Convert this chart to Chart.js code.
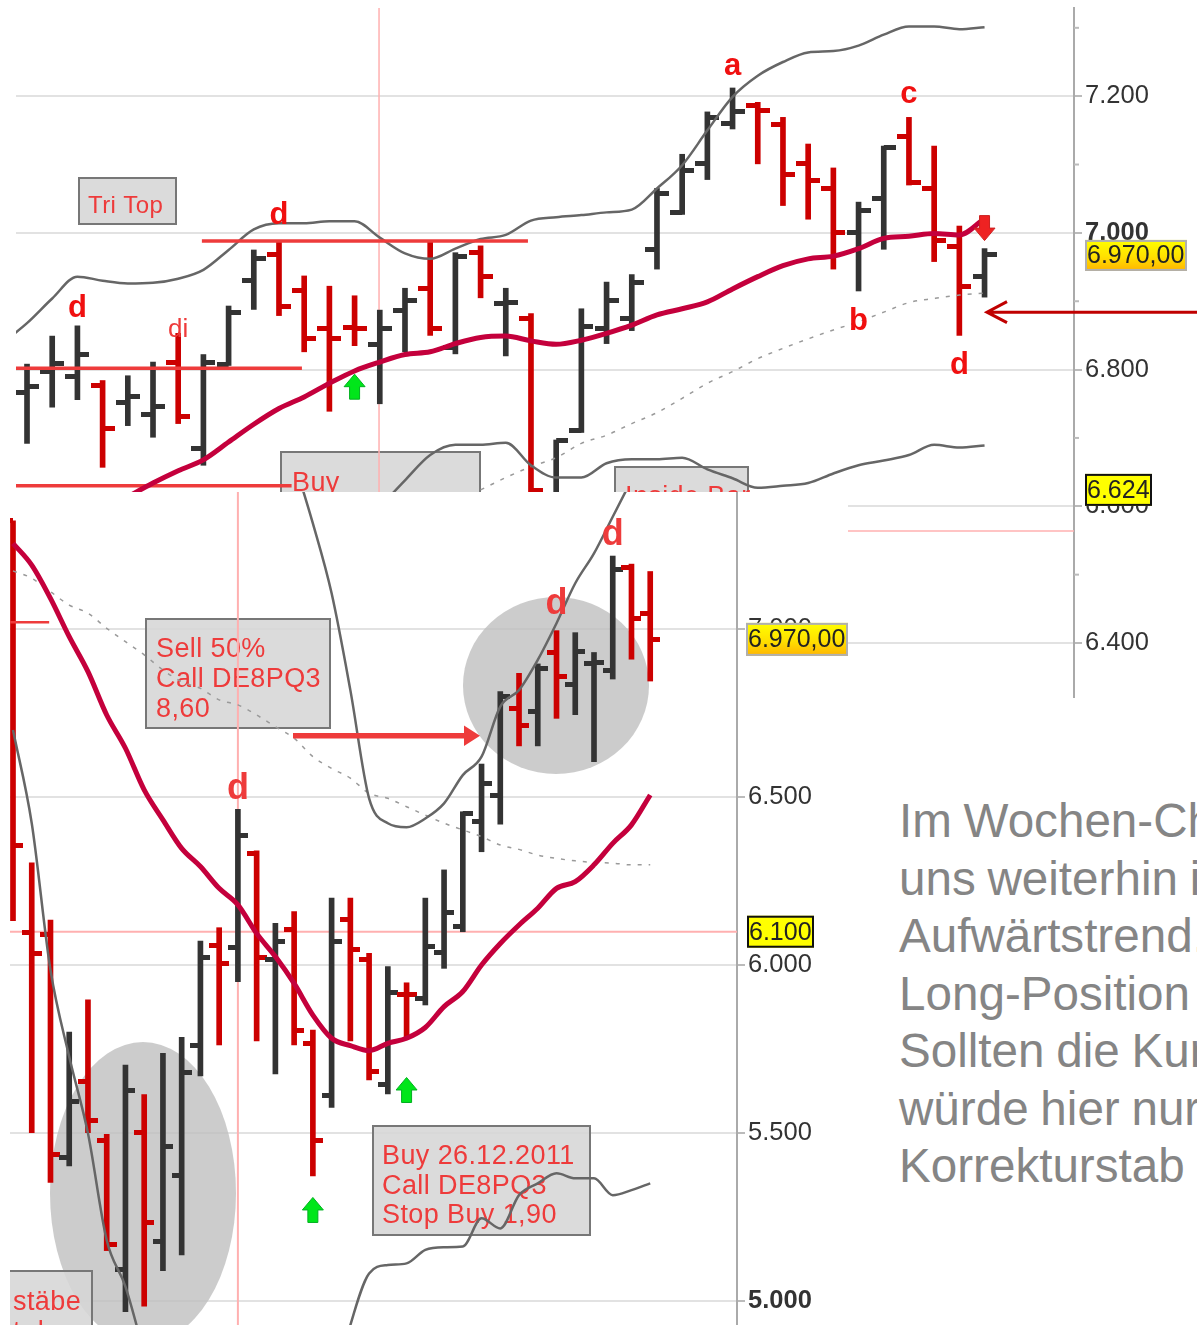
<!DOCTYPE html>
<html><head><meta charset="utf-8">
<script src="https://cdn.jsdelivr.net/npm/chart.js@4/dist/chart.umd.min.js"></script>
<style>
html,body{margin:0;padding:0;background:#fff;overflow:hidden;width:1197px;height:1325px}
#wrap{position:relative;width:1197px;height:1325px;overflow:hidden;font-family:"Liberation Sans",Arial,sans-serif}
#topBox{position:absolute;left:0;top:0;width:1197px;height:700px}
#botBox{position:absolute;left:10px;top:492px;width:838px;height:833px;background:#fff}
canvas{display:block}
#note{position:absolute;left:899px;top:792px;font-size:47.6px;line-height:57.5px;color:#858585;white-space:nowrap;word-spacing:-1.5px}
</style></head><body>
<div id="wrap">
<div id="topBox"><canvas id="top" width="1197" height="700"></canvas></div>
<div id="botBox"><canvas id="bot" width="838" height="833"></canvas></div>
<div id="note">Im Wochen-Chart<br>uns weiterhin im<br>Aufwärtstrend.<br>Long-Position<br>Sollten die Kurse<br>würde hier nur<br>Korrekturstab</div>
</div>
<script>
// ---------- weekly chart (top) ----------
const topHigh =[6808,6849,6864,6784,6791,6811,6853,6822,6893,6975,6987,6937,6922,6908,6887,6919,6987,6971,6981,6919,6882,6697,6889,6928,6939,7065,7115,7177,7212,7191,7169,7130,7095,7045,7127,7169,7127,7010,6977];
const topLow  =[6692,6745,6756,6657,6718,6701,6721,6660,6806,6888,6879,6826,6739,6835,6750,6826,6850,6823,6905,6820,6614,6599,6708,6838,6857,6947,7027,7078,7152,7101,7040,7020,6947,6915,6976,7070,6958,6850,6906];
const topOpen =[6766,6797,6790,6776,6752,6734,6810,6685,6807,6931,6969,6916,6860,6862,6837,6887,6918,6833,6972,6897,6875,6614,6711,6860,6875,6975,7030,7101,7160,7186,7159,7101,7065,7000,7050,7141,7065,6980,6936];
const topClose=[6775,6809,6822,6714,6761,6746,6731,6810,6884,6962,6893,6845,6845,6860,6860,6901,6860,6966,6936,6898,6623,6696,6863,6901,6927,7057,7091,7169,7177,7179,7086,7077,7000,7033,7125,7073,6989,6922,6969];
const topUpper=[6838,6868,6904,6936,6930,6926,6927,6933,6946,6975,7005,7014,7014,7017,7017,6993,6970,6962,6977,6991,6997,7018,7023,7026,7030,7034,7065,7099,7150,7199,7230,7250,7264,7266,7274,7290,7302,7302,7298,7301];
const topLower=[null,null,null,null,null,null,null,null,null,null,null,null,null,null,null,6599,6638,6675,6690,6690,6693,6660,6642,6642,6663,6669,6669,6671,6654,6641,6627,6630,6634,6648,6660,6667,6675,6690,6686,6689];
const topMA   =[null,null,null,null,6594,6614,6634,6652,6668,6694,6720,6743,6760,6780,6798,6811,6822,6826,6838,6847,6849,6842,6837,6843,6853,6865,6880,6889,6899,6918,6936,6952,6962,6966,6977,6992,6995,6999,6997,7021];
const topDots =[null,null,null,null,null,null,null,null,null,null,null,null,null,null,null,null,null,null,null,6624,6642,6658,6671,6692,6704,6721,6737,6758,6780,6797,6816,6831,6845,6858,6870,6884,6898,6904,6909,6912];
const topTicks=[6400,6500,6600,6700,6800,6900,7000,7100,7200,7300];
const topMajor=[6400,6600,6800,7000,7200];
const topLevels=[[7.94,20.88,6988],[0.56,11.91,6802],[0.56,11.5,6630]];
const topPink=6564, topCross=14.97;
const topLetters=[['d',3,6890],['d',11,7026],['di',7,6858],['a',29,7244],['c',36,7203],['b',34,6871],['d',38,6806]];
const topUpArrows=[[14,6775]], topDownArrows=[[39,7007]];
const topFlags=[['6.970,00',6967],['6.624',6624]];

// ---------- daily chart (bottom) ----------
const botHigh =[7323,6305,6135,5801,5897,5497,5703,5615,5738,5786,6072,6112,6464,6341,6125,6160,5807,6200,6200,6036,5996,5948,6200,6284,6457,6599,6815,6869,6897,6996,6990,6931,7218,7194,7172];
const botLow  =[6133,5502,5354,5403,5502,5151,4969,4986,5091,5138,5671,5763,5951,5775,5677,5763,5373,5577,5775,5659,5617,5783,5882,5991,6100,6338,6420,6653,6653,6735,6746,6606,6852,6911,6846];
const botOpen =[7323,6099,6092,5429,5655,5480,5095,5503,5177,5375,5762,6058,6053,6333,6018,6107,5766,5614,6135,6018,5644,5912,5900,6038,6117,6428,6504,6765,6755,6931,6836,6897,6876,7183,7048];
const botClose=[6358,6036,5438,5594,5539,5170,5626,5235,5462,5680,6024,6006,6386,6024,6070,5807,5480,6070,6046,5683,5919,5912,6055,6158,6452,6540,6800,6713,6884,6861,6935,6902,7178,7033,6971];
const botMA   =[7256,7191,7092,6978,6874,6745,6646,6522,6433,6348,6294,6229,6180,6095,6026,5946,5852,5783,5761,5746,5768,5783,5815,5877,5922,6001,6065,6120,6170,6229,6249,6299,6363,6418,6507];
const botUpper=[null,null,null,null,null,null,null,null,null,null,null,null,null,null,null,7500,7315,7107,6819,6497,6423,6411,6437,6482,6566,6621,6770,6819,6909,7018,7137,7226,7335,7444,null];
const botLower=[6700,6423,5986,5728,5500,5182,5044,4845,null,null,null,null,null,null,null,null,null,4700,4929,5083,5108,5113,5153,5161,5163,5247,5217,5316,5351,5381,5366,5366,5316,5331,5351];
const botDots =[7174,7152,7112,7072,7048,7003,6963,6924,6879,6844,6824,6790,6775,6745,6710,6676,6621,6586,6557,6512,6497,6472,6447,6423,6403,6383,6358,6345,6328,6318,6311,6306,6304,6299,6299];
const botTicks=[5000,5500,6000,6500,7000];
const botLevels=[[-0.16,1.93,7021]];
const botPink=6100, botCross=12;
const botLetters=[['d',12,6525],['d',29,7075],['d',32,7279]];
const botUpArrows=[[16,5272],[21,5629]];
const botFlags=[['6.970,00',6970],['6.100',6100]];

// ---------- helpers ----------
const FONT='"Liberation Sans", Arial, sans-serif';
const RED='#cc0000', DARK='#333333', ANN='#ee3b3b';
function tickImage(color,side,w){
  const c=document.createElement('canvas');c.width=w;c.height=5;
  const g=c.getContext('2d');g.fillStyle=color;
  if(side==='L')g.fillRect(0,0,w/2,5);else g.fillRect(w/2,0,w/2,5);
  return c;
}
function toXY(arr,off){return arr.map((v,i)=>({x:i+off,y:v}));}
function ohlcDatasets(hi,lo,op,cl,off,w,th){
  const col=i=>cl[i]>op[i]?DARK:RED;
  const imgs={L:{[DARK]:tickImage(DARK,'L',w),[RED]:tickImage(RED,'L',w)},R:{[DARK]:tickImage(DARK,'R',w),[RED]:tickImage(RED,'R',w)}};
  return [
    {type:'line',data:toXY(op,off),showLine:false,pointRadius:3,pointStyle:c=>imgs.L[col(c.dataIndex)]},
    {type:'line',data:toXY(cl,off),showLine:false,pointRadius:3,pointStyle:c=>imgs.R[col(c.dataIndex)]},
    {type:'bar',data:hi.map((h,i)=>({x:i+off,y:[lo[i],h]})),backgroundColor:hi.map((h,i)=>col(i)),borderWidth:0,barThickness:th}
  ];
}
function line(data,color,width,dash,smooth){
  return {type:'line',data,borderColor:color,borderWidth:width,borderDash:dash||[],pointRadius:0,tension:0,
    cubicInterpolationMode:smooth?'monotone':'default',spanGaps:false,borderJoinStyle:'round',borderCapStyle:'butt'};
}
function box(g,x,y,w,h,lines,lh,size,tx,by){
  g.save();
  g.fillStyle='rgba(214,214,214,0.88)';g.fillRect(x,y,w,h);
  g.strokeStyle='#777';g.lineWidth=2;g.strokeRect(x,y,w,h);
  g.fillStyle=ANN;g.font=size+'px '+FONT;g.textAlign='left';g.textBaseline='alphabetic';g.letterSpacing='0.4px';
  lines.forEach((t,i)=>g.fillText(t,tx,by+i*lh));
  g.restore();
}
function ellipse(g,cx,cy,rx,ry){
  g.save();g.fillStyle='rgba(190,190,190,0.78)';g.beginPath();g.ellipse(cx,cy,rx,ry,0,0,Math.PI*2);g.fill();g.restore();
}
function blockArrow(g,x,y,dir,fill,edge){
  // dir -1 points up, +1 points down
  g.save();g.translate(x,y);g.scale(1,-dir);
  g.beginPath();g.moveTo(0,-12.5);g.lineTo(10.5,0);g.lineTo(5,0);g.lineTo(5,12.5);g.lineTo(-5,12.5);g.lineTo(-5,0);g.lineTo(-10.5,0);g.closePath();
  g.restore();
  g.fillStyle=fill;g.fill();g.strokeStyle=edge;g.lineWidth=1;g.stroke();
}
function flag(g,text,xL,yC,w,h,size,solid){
  g.save();
  if(solid){g.fillStyle='#ffff00';g.fillRect(xL,yC-h/2,w,h);g.strokeStyle='#111';g.lineWidth=2;g.strokeRect(xL+1,yC-h/2+1,w-2,h-2);}
  else{const gr=g.createLinearGradient(0,yC-h/2,0,yC+h/2);gr.addColorStop(0,'#ffff00');gr.addColorStop(.55,'#ffe000');gr.addColorStop(1,'#ffb400');
    g.fillStyle=gr;g.fillRect(xL,yC-h/2,w,h);g.strokeStyle='#b0b0b0';g.lineWidth=2;g.strokeRect(xL+1,yC-h/2+1,w-2,h-2);}
  g.fillStyle='#222';g.font=size+'px '+FONT;g.textAlign='left';g.textBaseline='middle';
  g.fillText(text,xL+2,yC+1);
  g.restore();
}
function axisOptions(min,max,boldVal,majors,tickList,areaRight){
  return {
    type:'linear',position:'right',min,max,
    afterFit(s){s.width=areaRight;s.paddingTop=0;s.paddingBottom=0;s.paddingLeft=0;s.paddingRight=0;},
    afterBuildTicks(s){s.ticks=tickList.map(v=>({value:v}));},
    grid:{color:c=>majors.includes(c.tick.value)?'#e2e2e2':'rgba(0,0,0,0)',lineWidth:2,drawTicks:true,tickLength:8,
          tickColor:c=>majors.includes(c.tick.value)?'#bbbbbb':'rgba(0,0,0,0)',tickWidth:2},
    border:{display:true,color:'#aaaaaa',width:2},
    ticks:{autoSkip:false,includeBounds:false,padding:3,color:'#333',
      font:c=>({family:FONT,size:25.5,weight:c.tick&&c.tick.value===boldVal?'bold':'normal'}),
      callback:v=>majors.includes(v)?(v/1000).toFixed(3):''}
  };
}
const commonOpts={responsive:false,animation:false,events:[],plugins:{legend:{display:false},tooltip:{enabled:false}}};

// ---------- top chart ----------
const topPlugin={id:'topAnn',
  beforeDatasetsDraw(ch){const g=ch.ctx;
    box(g,79,178,97,46,['Tri Top'],0,24,88,213);
    box(g,281,452,199,60,['Buy'],0,27,292,491);
    box(g,615,467,133,40,['Inside Bar'],0,27,625,505);
  },
  afterDraw(ch){const g=ch.ctx,X=ch.scales.x,Y=ch.scales.y;
    // short minor tick marks on the axis
    g.save();g.strokeStyle='#bbbbbb';g.lineWidth=2;
    topTicks.filter(v=>!topMajor.includes(v)).forEach(v=>{const p=Y.getPixelForValue(v);g.beginPath();g.moveTo(X.right,p);g.lineTo(X.right+5,p);g.stroke();});
    g.restore();
    g.save();g.textAlign='center';g.textBaseline='middle';
    topLetters.forEach(([t,i,v])=>{
      g.font=(t==='di'?'26px ':'bold 31px ')+FONT;g.fillStyle=t==='di'?ANN:'#f01010';
      g.fillText(t,X.getPixelForValue(i),Y.getPixelForValue(v));});
    g.restore();
    topUpArrows.forEach(([i,v])=>blockArrow(g,X.getPixelForValue(i),Y.getPixelForValue(v),-1,'#00e61a','#00b020'));
    topDownArrows.forEach(([i,v])=>blockArrow(g,X.getPixelForValue(i),Y.getPixelForValue(v),1,'#ee2222','#cc2222'));
    flag(g,topFlags[0][0],1085,Y.getPixelForValue(topFlags[0][1]),102,31,25,false);
    flag(g,topFlags[1][0],1085,Y.getPixelForValue(topFlags[1][1]),67,32,25,true);
    // pointer arrow at the right edge
    const ay=Y.getPixelForValue(6884);
    g.save();g.strokeStyle='#c00000';g.lineWidth=3;g.lineJoin='miter';
    g.beginPath();g.moveTo(1197,ay);g.lineTo(987,ay);g.moveTo(1007,ay-10.5);g.lineTo(987,ay);g.lineTo(1007,ay+10.5);g.stroke();g.restore();
  }};
new Chart(document.getElementById('top'),{
  data:{datasets:[
    line(toXY(topMA,0),'#c4003c',5,null,true),
    ...topLevels.map(l=>line([{x:l[0],y:l[2]},{x:l[1],y:l[2]}],ANN,3.5)),
    line(toXY(topUpper,0),'#666666',2.5,null,true),
    line(toXY(topLower,0),'#666666',2.5,null,true),
    line(toXY(topDots,0),'#9a9a9a',1.5,[4,7],true),
    ...ohlcDatasets(topHigh,topLow,topOpen,topClose,1,24,5),
    line([{x:0.56,y:topPink},{x:42.55,y:topPink}],'#ffb0b0',1.5),
    line([{x:topCross,y:6321},{x:topCross,y:7329}],'#ffb0b0',1.5)
  ]},
  options:{...commonOpts,layout:{autoPadding:false,padding:{left:16,top:8,bottom:3,right:0}},
    scales:{
      x:{type:'linear',display:false,min:0.563,max:42.55,offset:false,grid:{display:false}},
      y:axisOptions(6321,7329,7000,topMajor,topTicks,123)
    }},
  plugins:[topPlugin]});

// ---------- bottom chart ----------
const botPlugin={id:'botAnn',
  beforeDatasetsDraw(ch){const g=ch.ctx;const ox=10,oy=492;
    ellipse(g,556-ox,685.5-oy,93,88.5);
    ellipse(g,143-ox,1193-oy,93,151);
    box(g,146-ox,619-oy,184,109,['Sell 50%','Call DE8PQ3','8,60'],30,27,156-ox,657-oy);
    box(g,373-ox,1126-oy,217,109,['Buy 26.12.2011','Call DE8PQ3','Stop Buy 1,90'],29.5,27,382-ox,1164-oy);
    box(g,-2,1271-oy,84,80,['stäbe','t d'],30,27,13-ox,1310-oy);
  },
  afterDraw(ch){const g=ch.ctx,X=ch.scales.x,Y=ch.scales.y;const ox=10,oy=492;
    g.save();g.textAlign='center';g.textBaseline='middle';g.font='bold 36px '+FONT;g.fillStyle=ANN;
    botLetters.forEach(([t,i,v])=>g.fillText(t,X.getPixelForValue(i),Y.getPixelForValue(v)));
    g.restore();
    botUpArrows.forEach(([i,v])=>blockArrow(g,X.getPixelForValue(i),Y.getPixelForValue(v),-1,'#00e61a','#00b020'));
    // red call-out arrow
    g.save();g.fillStyle=ANN;
    g.fillRect(293-ox,733-oy,172,5.5);
    g.beginPath();g.moveTo(480-ox,735.7-oy);g.lineTo(464-ox,725.5-oy);g.lineTo(464-ox,746-oy);g.closePath();g.fill();g.restore();
    flag(g,botFlags[0][0],746-ox,Y.getPixelForValue(botFlags[0][1]),102,33,25,false);
    flag(g,botFlags[1][0],747-ox,Y.getPixelForValue(botFlags[1][1]),67,32,25,true);
  }};
new Chart(document.getElementById('bot'),{
  data:{datasets:[
    line(toXY(botMA,0),'#c4003c',5,null,true),
    ...botLevels.map(l=>line([{x:l[0],y:l[2]},{x:l[1],y:l[2]}],ANN,2.5)),
    line(toXY(botUpper,0),'#666666',2.5,null,true),
    line(toXY(botLower,0),'#666666',2.5,null,true),
    line(toXY(botDots,0),'#9a9a9a',1.5,[4,7],true),
    ...ohlcDatasets(botHigh,botLow,botOpen,botClose,0,20,5),
    line([{x:-0.16,y:botPink},{x:38.63,y:botPink}],'#ffb0b0',2),
    line([{x:botCross,y:4929.6},{x:botCross,y:7408.6}],'#ffb0b0',2)
  ]},
  options:{...commonOpts,layout:{autoPadding:false,padding:0},
    scales:{
      x:{type:'linear',display:false,min:-0.16,max:38.63,offset:false,grid:{display:false}},
      y:axisOptions(4929.6,7408.6,5000,botTicks,botTicks,111)
    }},
  plugins:[botPlugin]});
</script>
</body></html>
